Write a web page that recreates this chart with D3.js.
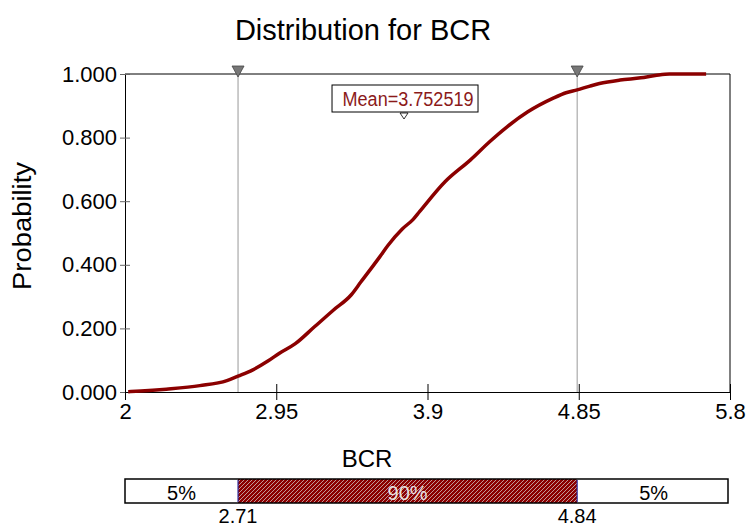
<!DOCTYPE html>
<html>
<head>
<meta charset="utf-8">
<script src="https://cdn.jsdelivr.net/npm/d3@7"></script>
<style>
  body { margin: 0; background: #fff; }
  svg { font-family: "Liberation Sans", Arial, sans-serif; }
</style>
</head>
<body>
<svg id="chart" width="749" height="526"></svg>
<script>
// cumulative curve
var cdfX = [2.02, 2.10, 2.26, 2.47, 2.64, 2.71, 2.80, 2.90, 2.97, 3.07, 3.19, 3.31, 3.42, 3.48,
            3.60, 3.65, 3.74, 3.81, 3.85, 4.01, 4.17, 4.29, 4.40, 4.53, 4.69, 4.77, 4.84,
            4.92, 4.98, 5.11, 5.24, 5.33, 5.42, 5.65];
var cdfP = [0.001, 0.003, 0.009, 0.020, 0.036, 0.050, 0.069, 0.098, 0.122, 0.152, 0.205, 0.258, 0.305, 0.345,
            0.425, 0.460, 0.512, 0.543, 0.567, 0.661, 0.730, 0.787, 0.834, 0.881, 0.924, 0.941, 0.950,
            0.962, 0.970, 0.981, 0.988, 0.995, 1.000, 1.000];
var xTicks = [2, 2.95, 3.9, 4.85, 5.8];
var yTicks = [0, 0.2, 0.4, 0.6, 0.8, 1.0];
var markers = [2.71, 4.84];
var meanValue = 3.752519;
var bandEdges = [2, 2.71, 4.84, 5.8];
var bandLabels = ['5%', '90%', '5%'];

var red = '#8b0000';
var svg = d3.select('#chart');

var x = d3.scaleLinear().domain([2, 5.8]).range([125, 730]);
var y = d3.scaleLinear().domain([0, 1]).range([392, 74]);

// hatch for the middle band
var pat = svg.append('defs').append('pattern')
    .attr('id', 'hatch')
    .attr('patternUnits', 'userSpaceOnUse')
    .attr('width', 4).attr('height', 4);
pat.append('rect').attr('width', 4).attr('height', 4).attr('fill', red);
pat.append('path')
    .attr('d', 'M-1,1 l2,-2 M0,4 l4,-4 M3,5 l2,-2')
    .attr('stroke', '#c8a8a8')
    .attr('stroke-width', 0.9);

svg.append('text')
    .attr('x', 363).attr('y', 40)
    .attr('text-anchor', 'middle')
    .style('font-size', '29px')
    .text('Distribution for BCR');

// frame top / right
svg.append('path')
    .attr('d', 'M' + x(2) + ',' + y(1) + 'H' + x(5.8) + 'V' + y(0))
    .attr('fill', 'none').attr('stroke', '#000');

// marker lines
svg.selectAll('.mline')
    .data(markers)
    .enter()
    .append('line')
    .attr('x1', function(d) { return x(d); })
    .attr('x2', function(d) { return x(d); })
    .attr('y1', y(1)).attr('y2', y(0))
    .attr('stroke', '#999');

var yAxis = svg.append('g')
    .attr('transform', 'translate(' + x(2) + ',0)')
    .call(d3.axisLeft(y).tickValues(yTicks).tickFormat(d3.format('.3f')).tickSize(5).tickSizeOuter(0));
yAxis.selectAll('.tick line').attr('x1', 5).attr('stroke', '#666');
yAxis.selectAll('text').style('font-size', '22px').attr('fill', '#000');

var xAxis = svg.append('g')
    .attr('transform', 'translate(0,' + y(0) + ')')
    .call(d3.axisBottom(x).tickValues(xTicks).tickFormat(d3.format('')).tickSize(8).tickSizeOuter(0));
xAxis.selectAll('.tick line').attr('y1', -8);
xAxis.selectAll('text').style('font-size', '22px').attr('fill', '#000');

svg.append('text')
    .attr('transform', 'translate(31,226) rotate(-90)')
    .attr('text-anchor', 'middle')
    .attr('textLength', 128)
    .attr('lengthAdjust', 'spacingAndGlyphs')
    .style('font-size', '25px')
    .text('Probability');

// cdf curve
var line = d3.line()
    .x(function(d, i) { return x(cdfX[i]); })
    .y(function(d) { return y(d); })
    .curve(d3.curveMonotoneX);
svg.append('path')
    .datum(cdfP)
    .attr('d', line)
    .attr('fill', 'none')
    .attr('stroke', red)
    .attr('stroke-width', 3.5)
    .attr('stroke-linejoin', 'round');

// marker triangles on top
svg.selectAll('.tri')
    .data(markers)
    .enter()
    .append('path')
    .attr('d', function(d) {
      var cx = x(d);
      return 'M' + (cx - 6) + ',66 L' + (cx + 6) + ',66 L' + cx + ',77 Z';
    })
    .attr('fill', '#777')
    .attr('stroke', '#444')
    .attr('stroke-width', 0.8);

// mean label
var mx = x(meanValue);
svg.append('rect')
    .attr('x', mx - 72).attr('y', 85)
    .attr('width', 146).attr('height', 27)
    .attr('fill', '#fff').attr('stroke', '#000');
svg.append('text')
    .attr('x', mx + 4).attr('y', 106)
    .attr('text-anchor', 'middle')
    .attr('fill', '#8b1a1a')
    .attr('textLength', 131)
    .attr('lengthAdjust', 'spacingAndGlyphs')
    .style('font-size', '20px')
    .text('Mean=' + meanValue);
svg.append('path')
    .attr('d', 'M' + (mx - 4) + ',113 L' + (mx + 4) + ',113 L' + mx + ',119 Z')
    .attr('fill', '#fff').attr('stroke', '#000').attr('stroke-width', 0.8);

svg.append('text')
    .attr('x', 367).attr('y', 467)
    .attr('text-anchor', 'middle')
    .style('font-size', '24px')
    .text('BCR');

// bottom band
var segs = bandLabels.map(function(l, i) { return { label: l, a: bandEdges[i], b: bandEdges[i + 1], mid: i == 1 }; });
svg.selectAll('.seg')
    .data(segs)
    .enter()
    .append('rect')
    .attr('x', function(d) { return x(d.a); })
    .attr('width', function(d) { return x(d.b) - x(d.a); })
    .attr('y', 479).attr('height', 24)
    .attr('fill', function(d) { return d.mid ? 'url(#hatch)' : '#fff'; });
svg.append('rect')
    .attr('x', x(2)).attr('y', 479)
    .attr('width', x(5.8) - x(2) - 2).attr('height', 24)
    .attr('fill', 'none').attr('stroke', '#000').attr('stroke-width', 1.5);
svg.selectAll('.split')
    .data(markers)
    .enter()
    .append('line')
    .attr('x1', function(d) { return x(d); })
    .attr('x2', function(d) { return x(d); })
    .attr('y1', 480).attr('y2', 502)
    .attr('stroke', '#2a2a9a').attr('stroke-width', 1.2);
svg.selectAll('.seglabel')
    .data(segs)
    .enter()
    .append('text')
    .attr('x', function(d) { return (x(d.a) + x(d.b)) / 2; })
    .attr('y', 500)
    .attr('text-anchor', 'middle')
    .attr('fill', function(d) { return d.mid ? '#e8e0e0' : '#000'; })
    .style('font-size', '20px')
    .text(function(d) { return d.label; });
svg.selectAll('.mlabel')
    .data(markers)
    .enter()
    .append('text')
    .attr('x', function(d) { return x(d); })
    .attr('y', 523)
    .attr('text-anchor', 'middle')
    .style('font-size', '20px')
    .text(function(d) { return d; });
</script>
</body>
</html>
